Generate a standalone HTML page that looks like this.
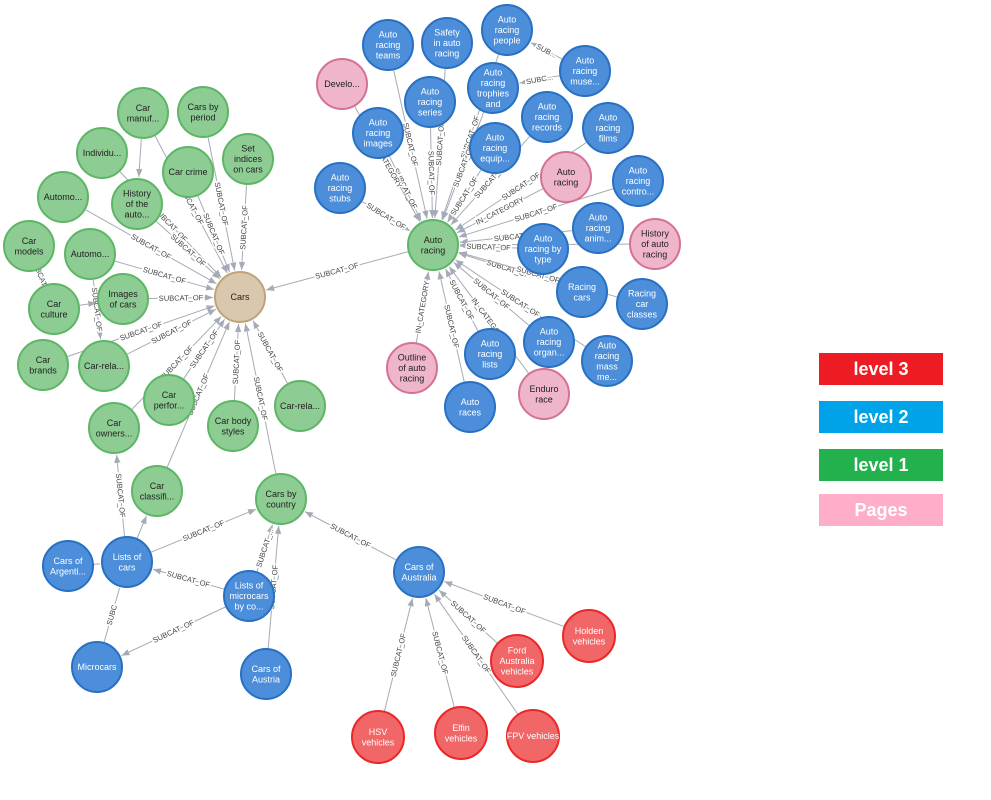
<!DOCTYPE html>
<html><head><meta charset="utf-8"><style>
body{margin:0;background:#fff;width:991px;height:800px;overflow:hidden;font-family:"Liberation Sans",sans-serif}
svg{position:absolute;left:0;top:0}
.n text{font-size:9px;text-anchor:middle}
.g circle{fill:#8DCC93;stroke:#5DB665;stroke-width:2}
.b circle{fill:#4C8EDA;stroke:#2870C2;stroke-width:2}
.p circle{fill:#EFB5CB;stroke:#D47196;stroke-width:2}
.r circle{fill:#F16667;stroke:#EB2728;stroke-width:2}
.t circle{fill:#D9C8AE;stroke:#C0A378;stroke-width:2}
.g text,.p text,.t text{fill:#222}
.b text,.r text{fill:#fff}
.el{font-size:7.5px;fill:#444;stroke:#fff;stroke-width:3;paint-order:stroke;text-anchor:middle}
.leg{position:absolute;left:819px;width:124px;height:32px;color:#fff;font-weight:bold;font-size:18px;text-align:center;line-height:32px}
</style></head><body>
<svg id="s" width="991" height="800" viewBox="0 0 991 800">
<defs><marker id="a" viewBox="0 0 10 10" refX="10" refY="5" markerWidth="8" markerHeight="8" orient="auto-start-reverse"><path d="M0,1 L10,5 L0,9 z" fill="#A5ABB6"/></marker></defs>
<g id="edges"></g>
<g id="nodes"></g>
</svg>
<div class="leg" style="top:353px;background:#ED1C24">level 3</div>
<div class="leg" style="top:401px;background:#00A2E8">level 2</div>
<div class="leg" style="top:449px;background:#22B14C">level 1</div>
<div class="leg" style="top:494px;background:#FFAEC9">Pages</div>
<script>
var N={
cars:[240,297,'t',['Cars']],
cman:[143,113,'g',['Car','manuf...']],
cper:[203,112,'g',['Cars by','period']],
seti:[248,159,'g',['Set','indices','on cars']],
ccri:[188,172,'g',['Car crime']],
indi:[102,153,'g',['Individu...']],
hist:[137,204,'g',['History','of the','auto...']],
aut1:[63,197,'g',['Automo...']],
aut2:[90,254,'g',['Automo...']],
cmod:[29,246,'g',['Car','models']],
ccul:[54,309,'g',['Car','culture']],
imgc:[123,299,'g',['Images','of cars']],
cbra:[43,365,'g',['Car','brands']],
crl1:[104,366,'g',['Car-rela...']],
cpf:[169,400,'g',['Car','perfor...']],
cown:[114,428,'g',['Car','owners...']],
cbs:[233,426,'g',['Car body','styles']],
crl2:[300,406,'g',['Car-rela...']],
ccla:[157,491,'g',['Car','classifi...']],
cbc:[281,499,'g',['Cars by','country']],
ar:[433,245,'g',['Auto','racing']],
loc:[127,562,'b',['Lists of','cars']],
arg:[68,566,'b',['Cars of','Argenti...']],
mic:[97,667,'b',['Microcars']],
lmc:[249,596,'b',['Lists of','microcars','by co...']],
aus:[266,674,'b',['Cars of','Austria']],
aul:[419,572,'b',['Cars of','Australia']],
hol:[589,636,'r',['Holden','vehicles']],
ford:[517,661,'r',['Ford','Australia','vehicles']],
fpv:[533,736,'r',['FPV vehicles']],
elf:[461,733,'r',['Elfin','vehicles']],
hsv:[378,737,'r',['HSV','vehicles']],
tea:[388,45,'b',['Auto','racing','teams']],
saf:[447,43,'b',['Safety','in auto','racing']],
peo:[507,30,'b',['Auto','racing','people']],
dev:[342,84,'p',['Develo...']],
ser:[430,102,'b',['Auto','racing','series']],
tro:[493,88,'b',['Auto','racing','trophies','and']],
mus:[585,71,'b',['Auto','racing','muse...']],
img:[378,133,'b',['Auto','racing','images']],
rec:[547,117,'b',['Auto','racing','records']],
fil:[608,128,'b',['Auto','racing','films']],
equ:[495,148,'b',['Auto','racing','equip...']],
arp:[566,177,'p',['Auto','racing']],
stu:[340,188,'b',['Auto','racing','stubs']],
con:[638,181,'b',['Auto','racing','contro...']],
ani:[598,228,'b',['Auto','racing','anim...']],
har:[655,244,'p',['History','of auto','racing']],
typ:[543,249,'b',['Auto','racing by','type']],
rcc:[582,292,'b',['Racing','cars']],
rcl:[642,304,'b',['Racing','car','classes']],
org:[549,342,'b',['Auto','racing','organ...']],
mas:[607,361,'b',['Auto','racing','mass','me...']],
lis:[490,354,'b',['Auto','racing','lists']],
out:[412,368,'p',['Outline','of auto','racing']],
end:[544,394,'p',['Enduro','race']],
rac:[470,407,'b',['Auto','races']]
};
var E=[];
['cman','cper','seti','ccri','indi','hist','aut1','aut2','imgc','cbra','crl1','cpf','cown','cbs','crl2','ccla','cbc','ar'].forEach(function(k){E.push([k,'cars','SUBCAT_OF'])});
E.push(['cmod','ccul','SUBCAT_...'],['aut2','crl1','SUBCAT_OF'],['cman','hist',''],['ccul','imgc',''],
['loc','ccla',''],['loc','cbc','SUBCAT_OF'],['loc','cown','SUBCAT_OF'],['arg','loc','',1],['mic','loc','SUBC',1],
['lmc','mic','SUBCAT_OF'],['lmc','loc','SUBCAT_OF'],['lmc','cbc','SUBCAT_...'],['aus','cbc','SUBCAT_OF'],['aul','cbc','SUBCAT_OF'],
['hol','aul','SUBCAT_OF'],['ford','aul','SUBCAT_OF'],['fpv','aul','SUBCAT_OF'],['elf','aul','SUBCAT_OF'],['hsv','aul','SUBCAT_OF'],
['mus','peo','SUB...'],['mus','tro','SUBC...']);
['tea','saf','peo','ser','tro','img','rec','fil','equ','stu','con','ani','har','typ','rcc','rcl','org','mas','lis','rac'].forEach(function(k){E.push([k,'ar','SUBCAT_OF'])});
['dev','arp','out','end'].forEach(function(k){E.push([k,'ar','IN_CATEGORY'])});
var ns='http://www.w3.org/2000/svg',eg=document.getElementById('edges'),ng=document.getElementById('nodes');
function mk(t,a,p){var e=document.createElementNS(ns,t);for(var k in a)e.setAttribute(k,a[k]);p.appendChild(e);return e}
E.forEach(function(e){var A=N[e[0]],B=N[e[1]],dx=B[0]-A[0],dy=B[1]-A[1],L=Math.sqrt(dx*dx+dy*dy),ux=dx/L,uy=dy/L,r=26;
var x1=A[0]+ux*r,y1=A[1]+uy*r,x2=B[0]-ux*(r+1),y2=B[1]-uy*(r+1);
var at={x1:x1,y1:y1,x2:x2,y2:y2,stroke:'#A5ABB6','stroke-width':1};if(!e[3])at['marker-end']='url(#a)';mk('line',at,eg);
if(e[2]){var mx=(x1+x2)/2,my=(y1+y2)/2,ang=Math.atan2(dy,dx)*180/Math.PI;if(ang>90)ang-=180;if(ang<-90)ang+=180;
var t=mk('text',{'class':'el',x:mx,y:my+2.5,transform:'rotate('+ang+' '+mx+' '+my+')'},eg);t.textContent=e[2];}});
for(var k in N){var n=N[k],g=mk('g',{'class':'n '+n[2]},ng),r=(n[2]=='r')?26:25;mk('circle',{cx:n[0],cy:n[1],r:r},g);
var ls=n[3],h=10.5,y0=n[1]-(ls.length-1)*h/2+3;ls.forEach(function(s,i){var t=mk('text',{x:n[0],y:y0+i*h},g);t.textContent=s;});}
</script>
</body></html>
